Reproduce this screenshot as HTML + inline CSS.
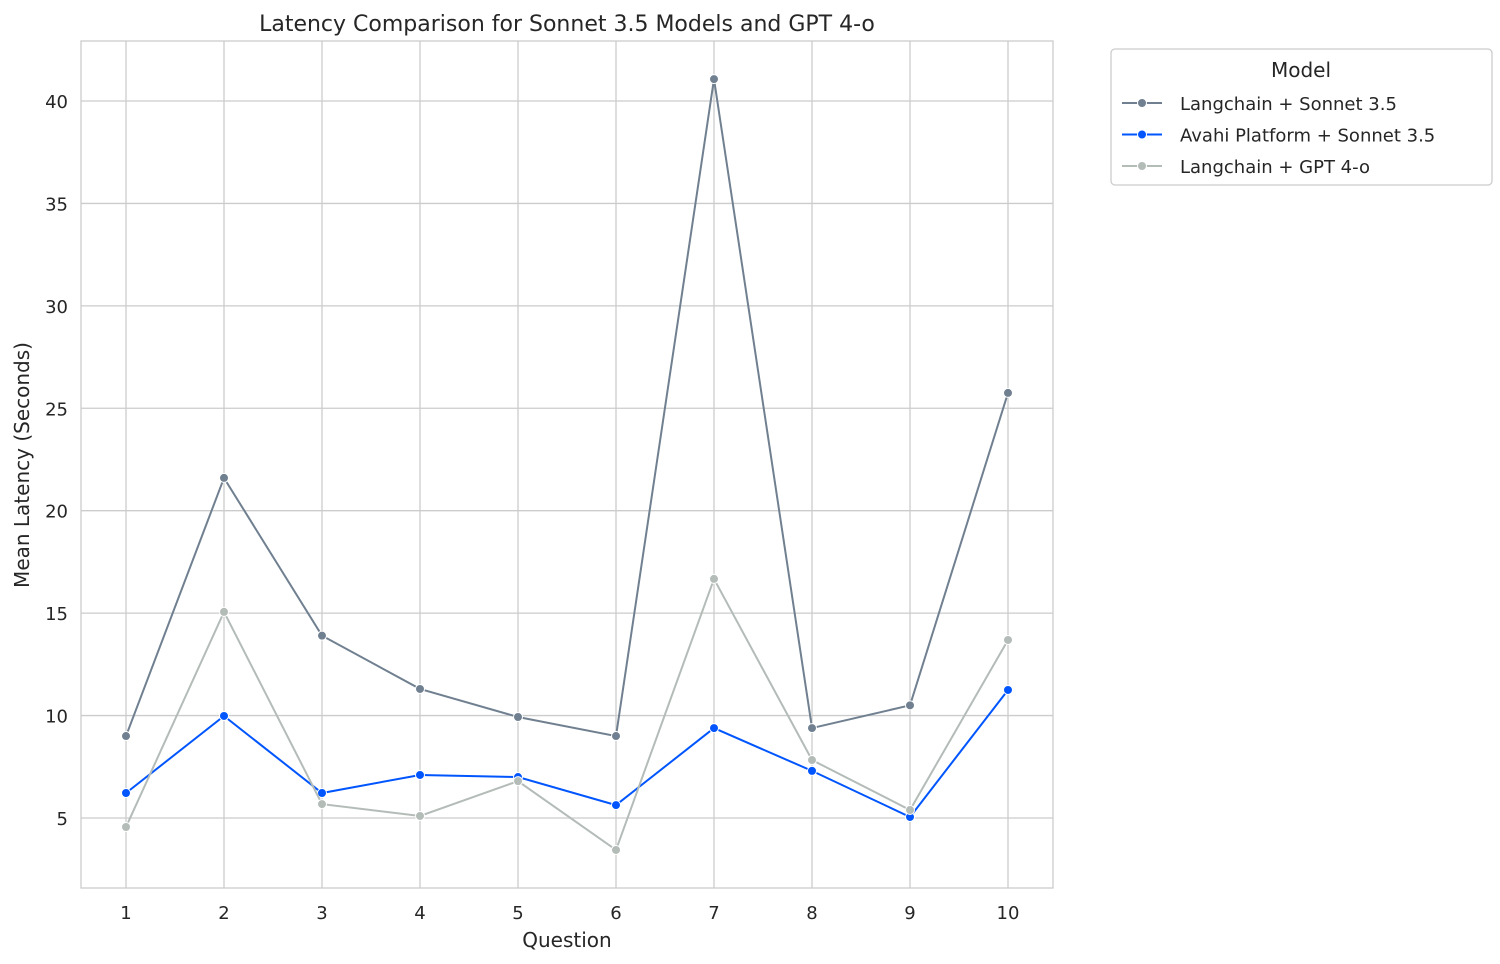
<!DOCTYPE html>
<html><head><meta charset="utf-8"><style>
html,body{margin:0;padding:0;background:#fff;}
svg{display:block;font-family:"DejaVu Sans","Liberation Sans",sans-serif;}
</style></head><body>
<svg id="chart" width="1500" height="964">
<rect x="0" y="0" width="1500" height="964" fill="#fff"/>
<g id="grid"></g>
<rect x="81" y="41" width="972" height="847" fill="none" stroke="#cccccc" stroke-width="1.3"/>
<g id="ticks"></g>
<g id="series"></g>
<text x="567" y="31" text-anchor="middle" font-size="22" fill="#262626">Latency Comparison for Sonnet 3.5 Models and GPT 4-o</text>
<text x="567" y="947" text-anchor="middle" font-size="20" fill="#262626">Question</text>
<text transform="translate(29,465) rotate(-90)" text-anchor="middle" font-size="20" fill="#262626">Mean Latency (Seconds)</text>
<g>
<rect x="1111" y="49" width="381" height="136" rx="4" fill="#fff" stroke="#cccccc" stroke-width="1.3"/>
<text x="1301" y="77" text-anchor="middle" font-size="20" fill="#262626">Model</text>
<g id="legend-entries"></g>
</g>
</svg>
<script>
const categories=[1,2,3,4,5,6,7,8,9,10];
const seriesNames=["Langchain + Sonnet 3.5","Avahi Platform + Sonnet 3.5","Langchain + GPT 4-o"];
const langchainSonnet=[9.0,21.6,13.9,11.3,9.93,9.0,41.07,9.39,10.5,25.75];
const avahiSonnet=[6.22,9.98,6.22,7.1,7.0,5.63,9.39,7.3,5.05,11.25];
const langchainGpt=[4.56,15.06,5.68,5.1,6.8,3.44,16.67,7.83,5.39,13.69];
const yTicks=[5,10,15,20,25,30,35,40];
const colors=["#708090","#0055ff","#b4bcb8"];
const NS="http://www.w3.org/2000/svg";
function xs(c){return 126+(c-1)*98;}
function ys(v){return 818-(v-5)*20.486;}
function mk(tag,attrs,parent){const e=document.createElementNS(NS,tag);for(const k in attrs)e.setAttribute(k,attrs[k]);parent.appendChild(e);return e;}
const grid=document.getElementById('grid'),ticks=document.getElementById('ticks'),ser=document.getElementById('series'),leg=document.getElementById('legend-entries');
categories.forEach(c=>{
 const l=mk('line',{x1:xs(c),x2:xs(c),y1:41,y2:888,stroke:'#cccccc','stroke-width':1.3},grid);
 
 
 const t=mk('text',{x:xs(c),y:919,'text-anchor':'middle','font-size':18,fill:'#262626'},ticks);
 t.textContent=c;
 
 
});
yTicks.forEach(v=>{
 const l=mk('line',{x1:81,x2:1053,y1:ys(v),y2:ys(v),stroke:'#cccccc','stroke-width':1.3},grid);
 
 
 const t=mk('text',{x:68,y:ys(v)+7,'text-anchor':'end','font-size':18,fill:'#262626'},ticks);
 t.textContent=v;
 
 
});
[langchainSonnet,avahiSonnet,langchainGpt].forEach((data,i)=>{
 const g=mk('g',{},ser);
 
 
 const pl=mk('polyline',{points:data.map((v,j)=>xs(categories[j])+','+ys(v)).join(' '),fill:'none',stroke:colors[i],'stroke-width':2},g);
 
 
 data.forEach((v,j)=>{
  const p=mk('circle',{cx:xs(categories[j]),cy:ys(v),r:4.5,fill:colors[i],stroke:'#fff','stroke-width':1},g);
  
  
 });
 const y=103+i*31.5;
 const lg=mk('g',{},leg);
 
 
 mk('line',{x1:1122,x2:1162,y1:y,y2:y,stroke:colors[i],'stroke-width':2},lg);
 mk('circle',{cx:1142,cy:y,r:4.5,fill:colors[i],stroke:'#fff','stroke-width':1},lg);
 const t=mk('text',{x:1180,y:y+7,'font-size':18,fill:'#262626'},lg);
 t.textContent=seriesNames[i];
});
</script>
</body></html>
